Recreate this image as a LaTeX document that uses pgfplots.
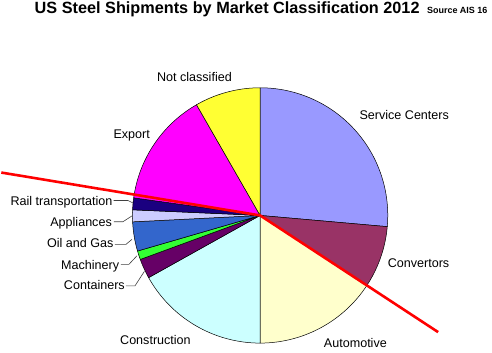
\documentclass[border=0pt]{standalone}
\usepackage{pgfplots}
\pgfplotsset{compat=1.18}
\usepackage{pgfplotstable}
\usepackage{fontspec}
\setmainfont{Liberation Sans}
\definecolor{slice0}{HTML}{9999FF}
\definecolor{slice1}{HTML}{993366}
\definecolor{slice2}{HTML}{FFFFCC}
\definecolor{slice3}{HTML}{CCFFFF}
\definecolor{slice4}{HTML}{660066}
\definecolor{slice5}{HTML}{33FF33}
\definecolor{slice6}{HTML}{3366CC}
\definecolor{slice7}{HTML}{CCCCFF}
\definecolor{slice8}{HTML}{1A0080}
\definecolor{slice9}{HTML}{FF00FF}
\definecolor{slice10}{HTML}{FFFF33}
\definecolor{leader}{HTML}{404040}
\tikzset{lab/.style={inner sep=0, font=\fontsize{12.6}{14}\selectfont}}
\pgfplotstableread{
label pct
ServiceCenters 26.4
Convertors 7.9
Automotive 15.7
Construction 16.9
Containers 2.5
Machinery 1.1
OilGas 3.7
Appliances 1.5
Rail 1.5
Export 14.5
NotClassified 8.3
}\piedata
\begin{document}
\begin{tikzpicture}
\begin{axis}[
  x=1pt, y=1pt, y dir=reverse,
  xmin=0, xmax=492, ymin=0, ymax=353,
  hide axis, clip=false,
]
\path (axis cs:0,0) rectangle (axis cs:492,353);
\def\acc{0}
\pgfplotsforeachungrouped \i in {0,...,10}{%
  \pgfplotstablegetelem{\i}{pct}\of\piedata
  \pgfmathsetmacro\tA{90-\acc}%
  \pgfmathsetmacro\acc{\acc+3.6*\pgfplotsretval}%
  \pgfmathsetmacro\tB{90-\acc}%
  \edef\cmd{\noexpand\addplot[draw=black, line width=0.5pt, fill=slice\i, domain=\tB:\tA, samples=80] ({259.5+128*cos(x)},{216-128*sin(x)}) -- (axis cs:259.5,216) -- cycle;}%
  \cmd
}
% red marker line
\addplot[color=red, line width=2.6pt, mark=none] coordinates {(0,173) (259.5,216) (438,333)};
% leader lines
\draw[leader, line width=0.6pt] (axis cs:112.7,201) -- (axis cs:127,201) -- (axis cs:132,203.5);
\draw[leader, line width=0.6pt] (axis cs:113,222.3) -- (axis cs:122,222.3) -- (axis cs:131,216.5);
\draw[leader, line width=0.6pt] (axis cs:114,245) -- (axis cs:125,245) -- (axis cs:131,240);
\draw[leader, line width=0.6pt] (axis cs:120,265) -- (axis cs:128,265) -- (axis cs:136,256.5);
\draw[leader, line width=0.6pt] (axis cs:125,286.7) -- (axis cs:134,286.7) -- (axis cs:143.5,272);
% labels
\node[lab, anchor=base west] at (axis cs:359,120) {Service Centers};
\node[lab, anchor=base west] at (axis cs:387.3,268.3) {Convertors};
\node[lab, anchor=base west] at (axis cs:323.3,348.3) {Automotive};
\node[lab, anchor=base west] at (axis cs:119,345) {Construction};
\node[lab, anchor=base east] at (axis cs:124,290) {Containers};
\node[lab, anchor=base east] at (axis cs:118.3,270) {Machinery};
\node[lab, anchor=base east] at (axis cs:112.7,248.3) {Oil and Gas};
\node[lab, anchor=base east] at (axis cs:111,226.7) {Appliances};
\node[lab, anchor=base east] at (axis cs:111.7,205.7) {Rail transportation};
\node[lab, anchor=base west] at (axis cs:112.3,139) {Export};
\node[lab, anchor=base west] at (axis cs:156,81.7) {Not classified};
% title
\node[anchor=base west, inner sep=0, font=\fontsize{16.3}{18}\selectfont\bfseries] at (axis cs:33.3,14) {US Steel Shipments by Market Classification 2012};
\node[anchor=base west, inner sep=0, font=\fontsize{9}{10}\selectfont\bfseries] at (axis cs:426.7,13.3) {Source AIS 16};
\end{axis}
\end{tikzpicture}
\end{document}
